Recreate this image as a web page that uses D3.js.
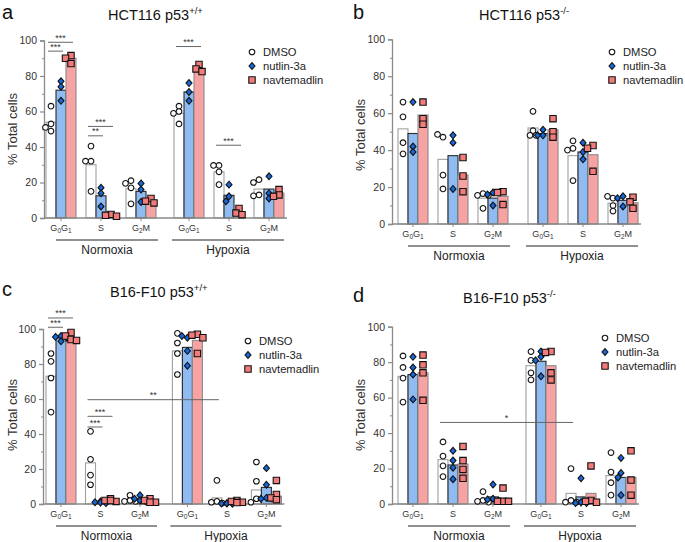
<!DOCTYPE html>
<html><head><meta charset="utf-8">
<script src="https://cdn.jsdelivr.net/npm/d3@7"></script>
<style>body{margin:0;background:#fff} svg{font-family:"Liberation Sans",Arial,sans-serif}</style>
</head><body><svg id="chart" width="685" height="542"></svg>
<script>
// ---------- data ----------
const categories = ["G0G1","S","G2M","G0G1","S","G2M"];
const conditions = ["Normoxia","Hypoxia"];
const treatments = ["DMSO","nutlin-3a","navtemadlin"];
const yTicks = [0,20,40,60,80,100];
const yMinorTicks = [10,30,50,70,90];

// Panel a: HCT116 p53+/+
const aDMSO    = [54, 30, 16.5, 59, 26, 16.3];
const aNutlin  = [72, 12.5, 15, 71, 12.8, 16.3];
const aNavte   = [90, 1.5, 10, 84, 3, 14];
const aDMSOPts   = [[63,53,51,49],[40.5,32,32,15],[21,19.5,17,8],[63,60,59,53],[29.6,29.6,26,18.8],[21.6,20,13,12.5]];
const aNutlinPts = [[77,74,66],[17,14,6.5],[19.5,16,9],[76,71,66],[18.8,12.2,9.4],[23.5,14,11]];
const aNavtePts  = [[91.5,90,87],[2,1.5,1],[11,9.5,8.5],[86.5,84,82.5],[5.4,2.8,1.9],[16,13,12.2]];
const aSig = [[0,0,0,2,99,"***"],[0,0,0,1,94,"***"],[1,0,1,2,51.6,"***"],[1,0,1,1,46.3,"**"],[3,0,3,2,96.6,"***"],[4,0,4,2,41,"***"]];

// Panel b: HCT116 p53-/-
const bDMSO    = [51.5, 35, 14, 52, 37, 11.2];
const bNutlin  = [49, 37, 14, 49, 39, 12.8];
const bNavte   = [59, 26.5, 15, 51, 37.5, 11.5];
const bDMSOPts   = [[66,58,44,38],[47,48.5,26.5,19],[16.5,15.5,15.5,8.5],[61,50.5,48,48],[45,41,40,23.5],[14,15,10,7]];
const bNutlinPts = [[66,42,39],[48,44,19],[17,16,10],[51,48,48],[44,39,35],[15,14,9.5]];
const bNavtePts  = [[66,57,54],[36,26,17.5],[17.5,17,10.5],[57,50,47],[42.5,41,28.5],[14.5,12,8.5]];
const bSig = [];

// Panel c: B16-F10 p53+/+
const cDMSO    = [73, 23.5, 2, 87.5, 3.5, 8];
const cNutlin  = [95, 1, 2.5, 89.5, 0.3, 9.5];
const cNavte   = [95, 2, 1.5, 93.5, 1.5, 4.5];
const cDMSOPts   = [[86,81.5,72,52.5],[41.5,25.5,16.5,11],[5,2,1.5,1.5],[97.5,92,86,74],[13.5,1.5,1,0.5],[24,13,3,1]];
const cNutlinPts = [[96,95.5,95,93],[1.5,1,0.5,0.8],[5,3,2,1.5],[95,96,87.5,79],[0.5,0.3,0.2,0.3],[20.5,11,3.5,3]];
const cNavtePts  = [[98,96,94,93.5],[3,2,1.5,2],[3,2,1,1],[97,96.5,95,86],[2,1.5,1,0.8],[13.5,5.5,3.5,2.5]];
const cSig = [[0,0,0,2,106.3,"***"],[0,0,0,1,101,"***"],[1,0,1,2,50.1,"***"],[1,0,1,1,44,"***"],[1,0,4,0,59.6,"**"]];

// Panel d: B16-F10 p53-/-
const dDMSO    = [72, 25, 2, 78, 6, 16];
const dNutlin  = [73, 22, 4, 80.5, 4, 15];
const dNavte   = [74, 22.5, 2, 78, 6, 15];
const dDMSOPts   = [[83.5,77,71,57.5],[35,27,21.5,15.5],[7,2,1.5,1],[86,81,74,70],[20,2,1,1],[29,18,12,5]];
const dNutlinPts = [[83,77,73,59],[30,24.5,20.5,14],[11,3,2.5,2],[86,83,81,72],[14.5,1,0.5,0.5],[26,17.5,15,5]];
const dNavtePts  = [[84,78.5,74,58.5],[32.5,24.5,19.5,14.5],[9,1.5,1.5,1.5],[86,85.5,74,70],[21.5,2,1.5,1],[30,13.5,5]];
const dSig = [[1,0,4,0,46,"*"]];

// ---------- styles / layout ----------
const barFill   = ["#ffffff","#8fbaf2","#f8a3a3"];
const barStroke = ["#a0a0a0","#2a2a2a","#8a8a8a"];
const ptFill    = ["#ffffff","#1668dc","#f27c7c"];
const axisCol = "#8a8a8a";
const textCol = "#333";

const panels = [
  {letter:"a", title:"HCT116 p53", sup:"+/+", bars:[aDMSO,aNutlin,aNavte], pts:[aDMSOPts,aNutlinPts,aNavtePts], sig:aSig,
   L:{ax:44, y0:218, y100:40.5, c0:61, step:40, hyp:3.2, letterX:2, letterY:19, titleX:108, titleY:20, legX:252, legY:52, ylabX:17, ylabY:129}},
  {letter:"b", title:"HCT116 p53", sup:"-/-", bars:[bDMSO,bNutlin,bNavte], pts:[bDMSOPts,bNutlinPts,bNavtePts], sig:bSig,
   L:{ax:392, y0:224, y100:39.3, c0:413, step:40, hyp:3.25, letterX:353, letterY:19, titleX:479, titleY:20, legX:612, legY:52, ylabX:365, ylabY:135}},
  {letter:"c", title:"B16-F10 p53", sup:"+/+", bars:[cDMSO,cNutlin,cNavte], pts:[cDMSOPts,cNutlinPts,cNavtePts], sig:cSig,
   L:{ax:43, y0:504, y100:329, c0:61, step:39.5, hyp:3.2, letterX:2, letterY:296, titleX:110, titleY:297, legX:248, legY:341, ylabX:17, ylabY:415}},
  {letter:"d", title:"B16-F10 p53", sup:"-/-", bars:[dDMSO,dNutlin,dNavte], pts:[dDMSOPts,dNutlinPts,dNavtePts], sig:dSig,
   L:{ax:392, y0:504, y100:326.7, c0:413, step:40, hyp:3.2, letterX:353, letterY:302, titleX:463, titleY:303, legX:605, legY:338, ylabX:365, ylabY:415}}
];

const svg = d3.select("#chart");

function symbolPath(t){
  if (t===0) return d3.symbol(d3.symbolCircle, 25)();
  if (t===1) return "M0,-3.4L3,0L0,3.4L-3,0Z";
  return "M-3.2,-3.2H3.2V3.2H-3.2Z";
}

function dodge(values, y, cx){
  const placed = [];
  return values.map(v => {
    const py = y(v);
    for (const dx of [0,-3,3,-5.5,5.5,-8,8]) {
      if (placed.every(p => Math.hypot(p[0]-(cx+dx), p[1]-py) >= 5)) { placed.push([cx+dx,py]); return [cx+dx,py]; }
    }
    placed.push([cx,py]); return [cx,py];
  });
}

function catLabel(sel, cat){
  if (cat === "S") { sel.text("S"); return; }
  const parts = cat === "G0G1" ? [["G",0],["0",1],["G",0],["1",1]] : [["G",0],["2",1],["M",0]];
  let prevSub = 0;
  parts.forEach(([s,sub]) => {
    const dy = sub - prevSub; prevSub = sub;
    sel.append("tspan").text(s).attr("dy", dy*2.2).attr("font-size", sub ? 6.5 : 9);
  });
}

panels.forEach(p => {
  const L = p.L;
  const g = svg.append("g");
  const y = d3.scaleLinear().domain([0,100]).range([L.y0, L.y100]);
  const pos = [0,1,2,L.hyp,L.hyp+1,L.hyp+2];
  const xs = d3.scaleLinear().domain([0,1]).range([L.c0, L.c0+L.step]);
  const xc = i => xs(pos[i]);
  const bx = (i,t) => xc(i) + (t-1)*10;

  // letter & title
  g.append("text").attr("x",L.letterX).attr("y",L.letterY).attr("font-size",20).attr("fill","#111").text(p.letter);
  const tt = g.append("text").attr("x",L.titleX).attr("y",L.titleY).attr("font-size",14.5).attr("fill","#111");
  tt.append("tspan").text(p.title);
  tt.append("tspan").text(p.sup).attr("font-size",9.5).attr("dy",-6);

  // y axis
  const ya = g.append("g").attr("transform",`translate(${L.ax},0)`)
    .call(d3.axisLeft(y).tickValues(yTicks).tickSize(4).tickPadding(3));
  ya.select(".domain").attr("stroke",axisCol).attr("stroke-width",1.3);
  ya.selectAll(".tick line").attr("stroke",axisCol).attr("stroke-width",1.2);
  ya.selectAll(".tick text").attr("font-size",10.5).attr("fill",textCol).attr("font-family","Liberation Sans, Arial, sans-serif");
  const ym = g.append("g").attr("transform",`translate(${L.ax},0)`)
    .call(d3.axisLeft(y).tickValues(yMinorTicks).tickSize(2).tickFormat(""));
  ym.select(".domain").remove();
  ym.selectAll(".tick line").attr("stroke",axisCol).attr("stroke-width",1);

  g.append("text").attr("transform",`translate(${L.ylabX},${L.ylabY}) rotate(-90)`)
    .attr("text-anchor","middle").attr("font-size",13).attr("fill",textCol).text("% Total cells");

  // bars
  p.bars.forEach((vals,t) => {
    g.selectAll(null).data(vals).enter().append("rect")
      .attr("x",(d,i)=>bx(i,t)-5).attr("width",10)
      .attr("y",d=>y(d)).attr("height",d=>L.y0-y(d))
      .attr("fill",barFill[t]).attr("stroke",barStroke[t]).attr("stroke-width",1.1);
  });

  // x axis line and ticks
  const xEnd = xc(5)+18;
  g.append("line").attr("x1",L.ax).attr("x2",xEnd).attr("y1",L.y0).attr("y2",L.y0).attr("stroke",axisCol).attr("stroke-width",1.3);
  categories.forEach((c,i) => {
    g.append("line").attr("x1",xc(i)).attr("x2",xc(i)).attr("y1",L.y0).attr("y2",L.y0+3).attr("stroke",axisCol).attr("stroke-width",1);
    const tx = g.append("text").attr("x",xc(i)).attr("y",L.y0+13).attr("text-anchor","middle").attr("font-size",9).attr("fill",textCol);
    catLabel(tx,c);
  });

  // condition underlines
  const spans = [[xc(0)-5, xc(2)+17],[xc(3)-17, xc(5)+15]];
  conditions.forEach((c,k) => {
    g.append("line").attr("x1",spans[k][0]).attr("x2",spans[k][1]).attr("y1",L.y0+22).attr("y2",L.y0+22).attr("stroke","#222").attr("stroke-width",1.2);
    g.append("text").attr("x",(spans[k][0]+spans[k][1])/2).attr("y",L.y0+36).attr("text-anchor","middle")
      .attr("font-size",12).attr("fill","#222").text(c);
  });

  // significance lines
  p.sig.forEach(([gf,bf,gt,bt,v,lab]) => {
    const x0 = bx(gf,bf)-3, x1 = bx(gt,bt)+2;
    g.append("line").attr("x1",x0).attr("x2",x1).attr("y1",y(v)).attr("y2",y(v)).attr("stroke","#666").attr("stroke-width",1);
    g.append("text").attr("x",(x0+x1)/2).attr("y",y(v)-1.5).attr("text-anchor","middle").attr("font-size",9).attr("fill","#333").text(lab);
  });

  // points
  p.pts.forEach((groups,t) => {
    groups.forEach((vals,i) => {
      const placed = dodge(vals, y, bx(i,t));
      g.selectAll(null).data(placed).enter().append("path")
        .attr("d",symbolPath(t)).attr("transform",d=>`translate(${d[0]},${d[1]})`)
        .attr("fill",ptFill[t]).attr("stroke","#111").attr("stroke-width",1.1);
    });
  });

  // legend
  treatments.forEach((name,t) => {
    const ly = L.legY + t*14;
    g.append("path").attr("d",symbolPath(t)).attr("transform",`translate(${L.legX},${ly})`)
      .attr("fill",ptFill[t]).attr("stroke","#111").attr("stroke-width",1.1);
    g.append("text").attr("x",L.legX+11).attr("y",ly+4).attr("font-size",11.2).attr("fill","#222").text(name);
  });
});
</script></body></html>
